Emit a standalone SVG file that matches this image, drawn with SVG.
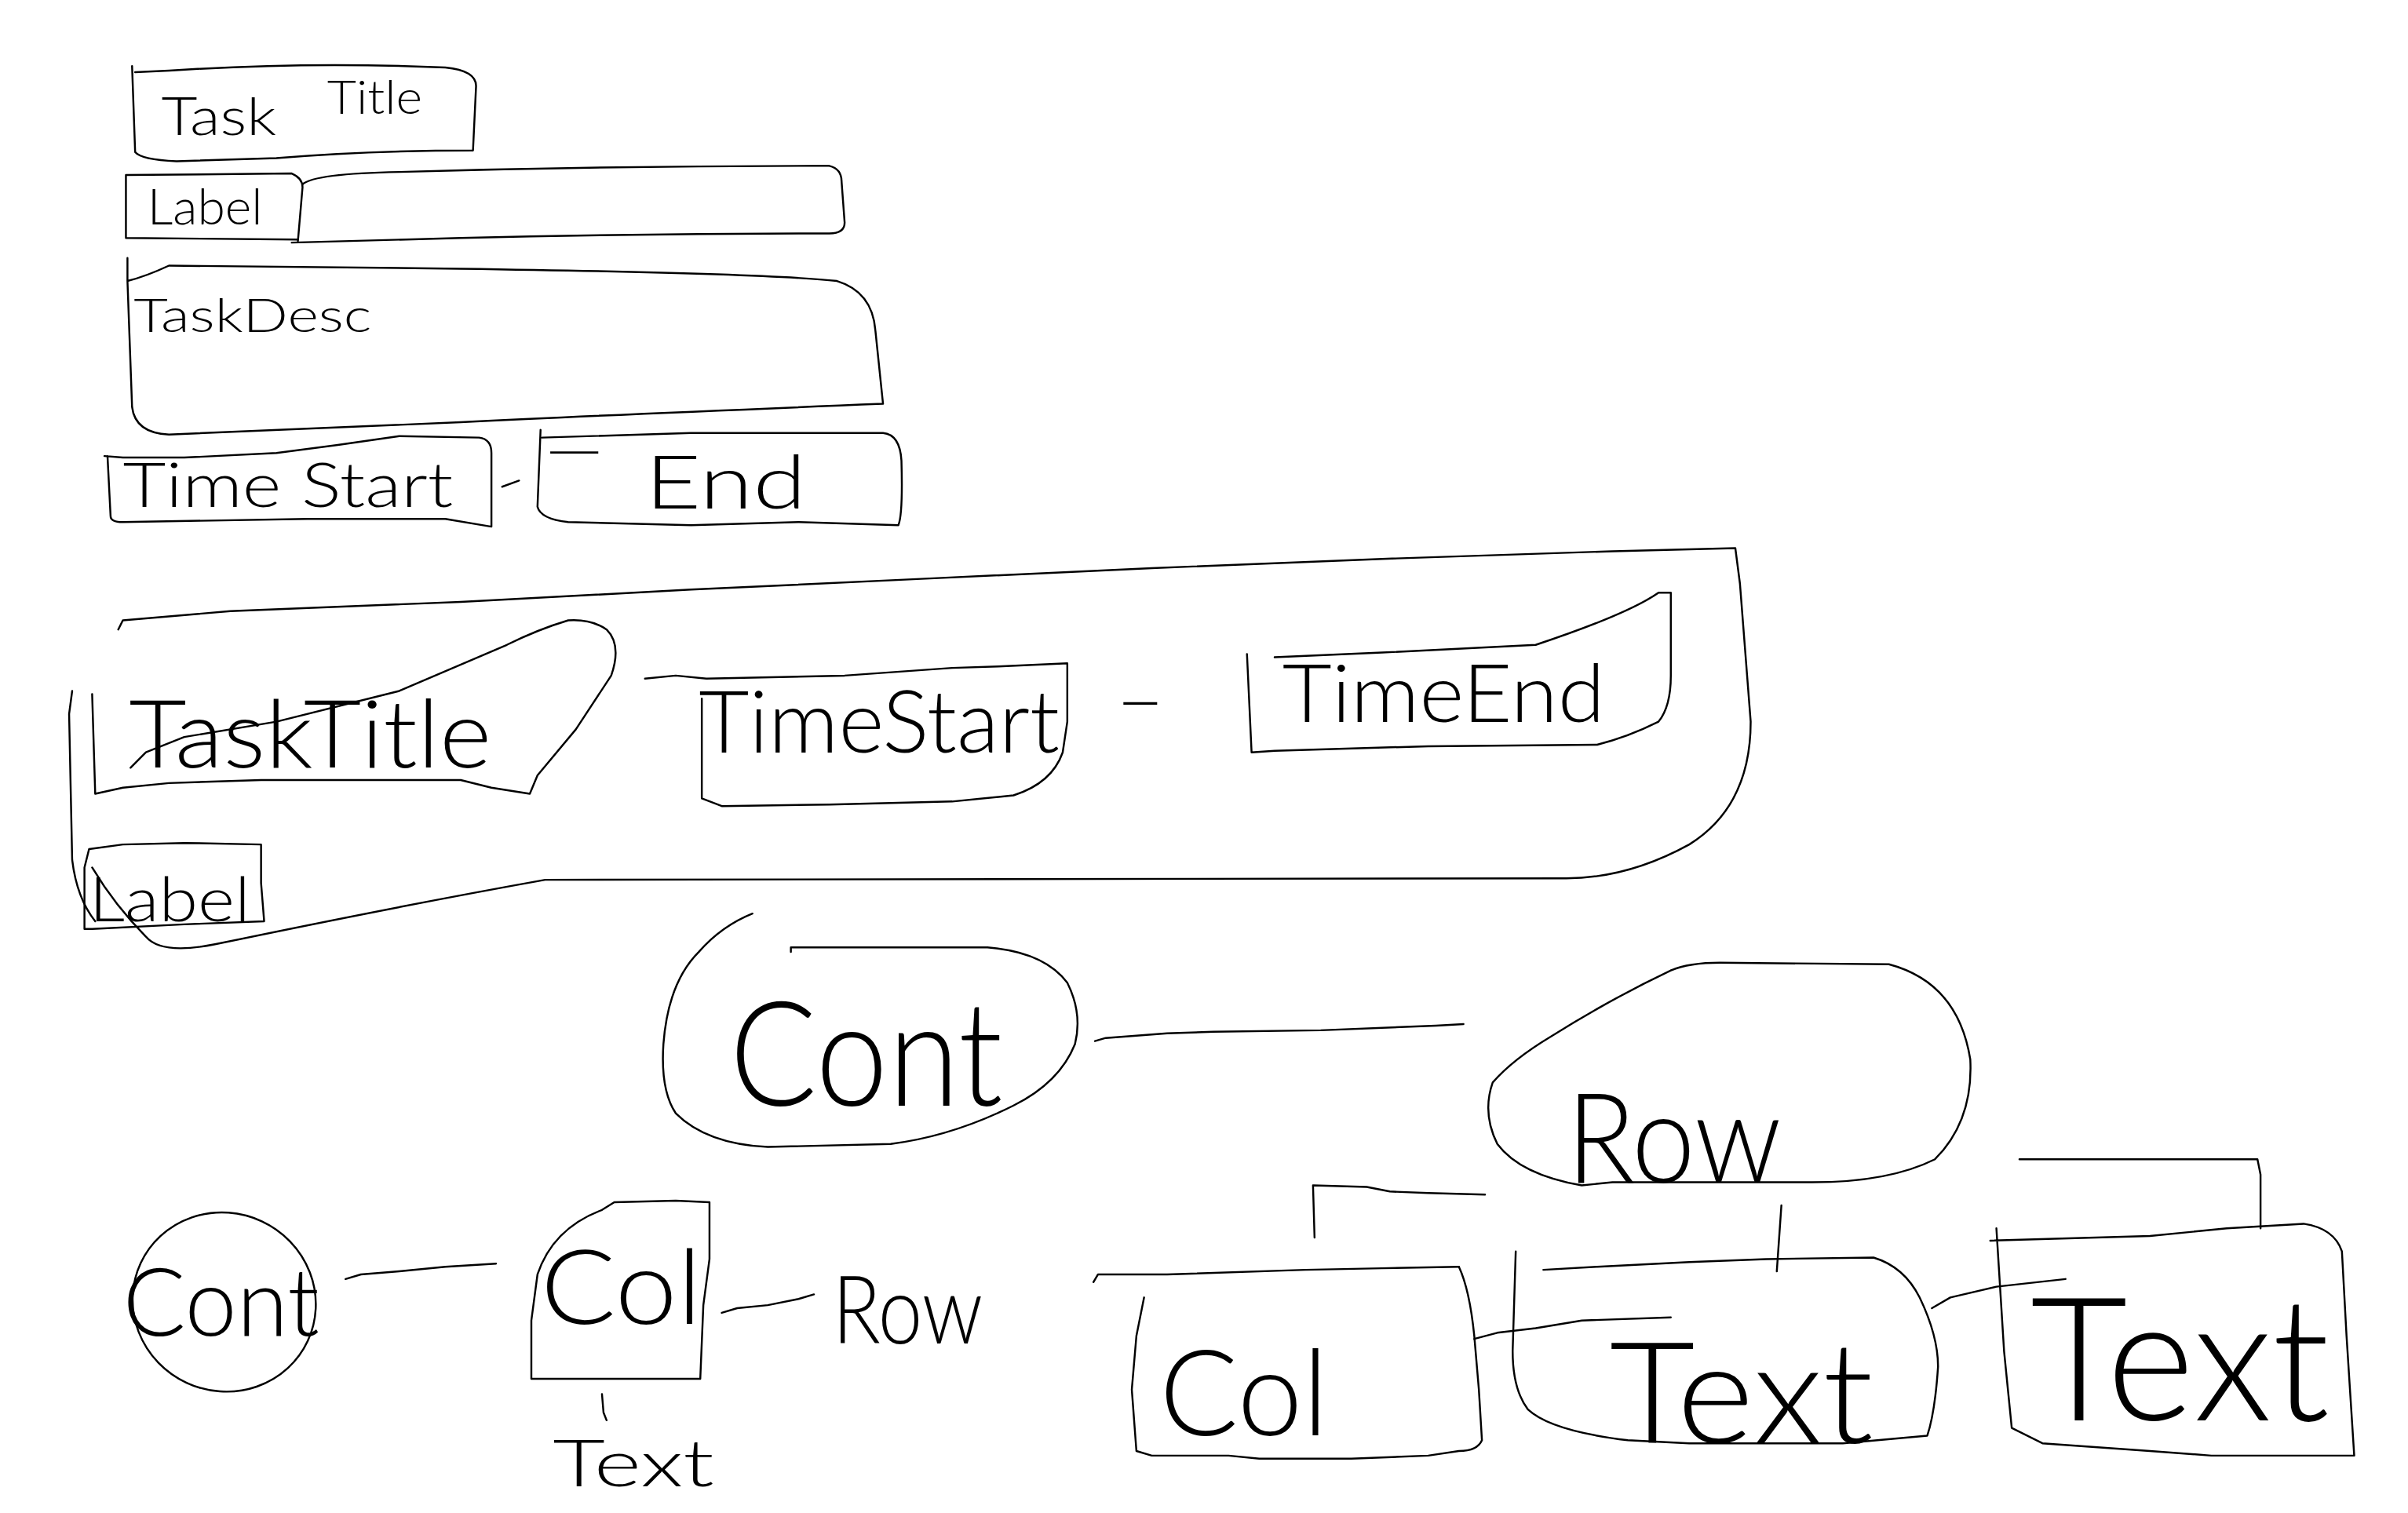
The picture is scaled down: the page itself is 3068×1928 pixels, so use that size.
<svg xmlns="http://www.w3.org/2000/svg" width="3068" height="1928" viewBox="0 0 3068 1928">
<style>
.s{fill:none;stroke:#000;stroke-width:1.25;stroke-linejoin:round;stroke-linecap:round}
.t{font-family:Lato,"Open Sans","Liberation Sans",Arial,sans-serif;font-weight:300;fill:#000}
</style>
<rect width="3068" height="1928" fill="#fff"/>
<g transform="scale(1.9566)">
<g id="task-title">
<path class="s" d="M86,43 L88,99 Q92,104 115,105 L180,103 Q240,98 308,98 L310,56 Q310,46 290,44 Q200,40 110,46 L88,47"/>
<text class="t"><tspan x="105" y="88" font-size="34" textLength="75" lengthAdjust="spacingAndGlyphs">Task</tspan><tspan x="213" y="74" font-size="30" textLength="62" lengthAdjust="spacingAndGlyphs">Title</tspan></text>
</g>
<g id="label-row">
<path class="s" d="M82,114 L190,113 Q197,116 197,122 L194,157 M82,114 L82,155 L194,156"/>
<path class="s" d="M197,120 Q205,113 260,112 Q400,108 540,108 Q548,110 548,118 L550,145 Q550,152 540,152 Q420,152 300,155 L190,158"/>
<text class="t" x="96" y="146" font-size="32" textLength="75" lengthAdjust="spacingAndGlyphs">Label</text>
</g>
<g id="task-desc">
<path class="s" d="M83,168 L83,183 Q95,180 110,173 L300,175 Q500,178 545,183 Q568,190 570,215 L575,263 Q400,270 300,275 L110,283 Q88,282 86,265 L83,183"/>
<text class="t" x="87" y="216" font-size="30" textLength="155" lengthAdjust="spacingAndGlyphs">TaskDesc</text>
</g>
<g id="time-start">
<path class="s" d="M68,297 L80,298 L120,298 L180,295 Q220,290 260,284 L312,285 Q320,286 320,295 L320,343 L290,338 L200,338 L80,340 Q72,340 72,336 L70,297"/>
<text class="t" x="80" y="330" font-size="40" textLength="215" lengthAdjust="spacingAndGlyphs">Time Start</text>
</g>
<g id="time-end">
<path class="s" d="M353,285 L450,282 L575,282 Q586,283 587,300 Q588,335 585,342 L520,340 L450,342 L370,340 Q352,338 350,330 L352,280"/>
<text class="t"><tspan x="355" y="306" font-size="40" textLength="38" lengthAdjust="spacingAndGlyphs">—</tspan><tspan x="420" y="331" font-size="48" textLength="105" lengthAdjust="spacingAndGlyphs">End</tspan></text>
</g>
<g id="container">
<path class="s" d="M77,410 L80,404 L150,398 L300,392 L450,384 L600,377 L750,370 L900,364 L1050,359 L1130,357 L1133,380 L1140,470 Q1140,525 1100,550 Q1060,572 1020,572 L355,573 Q260,590 140,615 Q105,622 95,610 Q75,590 60,565"/>
<path class="s" d="M47,450 L45,465 L47,560 Q50,585 62,600"/>
</g>
<g id="task-title-2">
<path class="s" d="M60,452 L62,517 L80,513 L110,510 L170,508 L300,508 L320,513 L345,517 L350,505 L375,475 L398,440 Q405,420 395,410 Q385,403 370,404 Q350,410 330,420 L260,450 L180,470 L120,480 L95,490 L85,500"/>
<text class="t" x="84" y="500" font-size="62" textLength="236" lengthAdjust="spacingAndGlyphs">TaskTitle</text>
</g>
<g id="time-start-2">
<path class="s" d="M420,442 L440,440 L460,442 L550,440 L620,435 L650,434 L695,432 L695,470 L692,490 Q685,510 660,518 L620,522 L540,524 L470,525 L457,520 L457,455"/>
<text class="t" x="455" y="490" font-size="56" textLength="235" lengthAdjust="spacingAndGlyphs">TimeStart</text>
</g>
<g id="dash-2">
<text class="t" x="725" y="470" font-size="40" textLength="35" lengthAdjust="spacingAndGlyphs">-</text>
</g>
<g id="time-end-2">
<path class="s" d="M812,426 L815,490 L830,489 L930,486 L1040,485 Q1060,480 1080,470 Q1088,460 1088,440 L1088,386 L1080,386 Q1060,400 1000,420 L900,425 L830,428"/>
<text class="t" x="835" y="470" font-size="52" textLength="210" lengthAdjust="spacingAndGlyphs">TimeEnd</text>
</g>
<g id="label-2">
<path class="s" d="M55,565 L58,553 L80,550 L120,549 L170,550 L170,575 L172,600 L120,602 L60,605 L55,605 L55,565"/>
<text class="t" x="58" y="600" font-size="40" textLength="105" lengthAdjust="spacingAndGlyphs">Label</text>
</g>
<g id="cont-big">
<path class="s" d="M515,620 L515,617 L643,617 Q680,620 695,640 Q705,660 700,680 Q690,705 660,720 Q620,740 580,745 L500,747 Q460,745 440,725 Q430,710 432,680 Q435,640 455,620 Q470,603 490,595"/>
<text class="t" x="475" y="720" font-size="95" textLength="178" lengthAdjust="spacingAndGlyphs">Cont</text>
</g>
<g id="row-big">
<path class="s" d="M1088,632 Q1100,627 1120,627 L1230,628 Q1275,640 1283,690 Q1285,730 1260,755 Q1230,770 1180,770 L1050,770 L1030,772 Q990,765 975,745 Q965,725 972,705 Q985,690 1010,675 Q1050,650 1088,632"/>
<text class="t" x="1020" y="770" font-size="82" textLength="140" lengthAdjust="spacingAndGlyphs">Row</text>
</g>
<g id="col-big">
<path class="s" d="M712,835 L715,830 L760,830 L850,827 L900,826 L950,825"/>
<path class="s" d="M950,825 Q957,840 960,870 L963,905 L965,938 Q962,945 950,945 L930,948 L880,950 L820,950 L800,948 L750,948 L740,945 L737,905 L740,870 L745,845"/>
<text class="t" x="755" y="935" font-size="78" textLength="110" lengthAdjust="spacingAndGlyphs">Col</text>
</g>
<g id="text-mid">
<path class="s" d="M1005,827 L1040,825 L1100,822 L1150,820 L1220,819 Q1240,825 1250,845 Q1262,870 1262,890 Q1260,920 1255,935 L1200,940 L1100,940 L1060,938 Q1010,932 995,918 Q985,905 985,880 L987,815"/>
<text class="t" x="1048" y="940" font-size="92" textLength="172" lengthAdjust="spacingAndGlyphs">Text</text>
</g>
<g id="text-right">
<path class="s" d="M1296,808 L1400,805 L1450,800 L1500,797 Q1520,800 1525,815 L1528,870 L1533,948 L1440,948 L1400,945 L1330,940 L1310,930 L1305,880 L1300,800"/>
<text class="t" x="1322" y="925" font-size="112" textLength="195" lengthAdjust="spacingAndGlyphs">Text</text>
</g>
<g id="cont-small">
<ellipse class="s" cx="146" cy="848" rx="60" ry="58" transform="rotate(25 146 848)"/>
<text class="t" x="80" y="870" font-size="62" textLength="128" lengthAdjust="spacingAndGlyphs">Cont</text>
</g>
<g id="col-small">
<path class="s" d="M392,788 L400,783 L440,782 L462,783 L462,820 L458,850 L456,898 L346,898 L346,860 L350,830 Q360,800 392,788"/>
<text class="t" x="352" y="862" font-size="68" textLength="105" lengthAdjust="spacingAndGlyphs">Col</text>
</g>
<g id="row-small">
<text class="t" x="542" y="875" font-size="62" textLength="98" lengthAdjust="spacingAndGlyphs">Row</text>
</g>
<g id="text-small">
<text class="t" x="360" y="968" font-size="42" textLength="105" lengthAdjust="spacingAndGlyphs">Text</text>
</g>
<g id="connectors">
<path class="s" d="M327,317 L338,313"/>
<path class="s" d="M713,678 L720,676 L760,673 L790,672 L860,671 L935,668 L953,667"/>
<path class="s" d="M856,806 L855,772 L890,773 L905,776 L930,777 L967,778"/>
<path class="s" d="M1160,785 L1157,828"/>
<path class="s" d="M1315,755 L1470,755 L1472,765 L1472,800"/>
<path class="s" d="M960,872 L975,868 L1000,865 L1030,860 L1088,858"/>
<path class="s" d="M1258,852 L1270,845 L1300,838 L1345,833"/>
<path class="s" d="M225,833 L235,830 L260,828 L290,825 L323,823"/>
<path class="s" d="M470,855 L480,852 L500,850 L520,846 L530,843"/>
<path class="s" d="M392,908 L393,920 L395,925"/>
</g>
</g>
</svg>
